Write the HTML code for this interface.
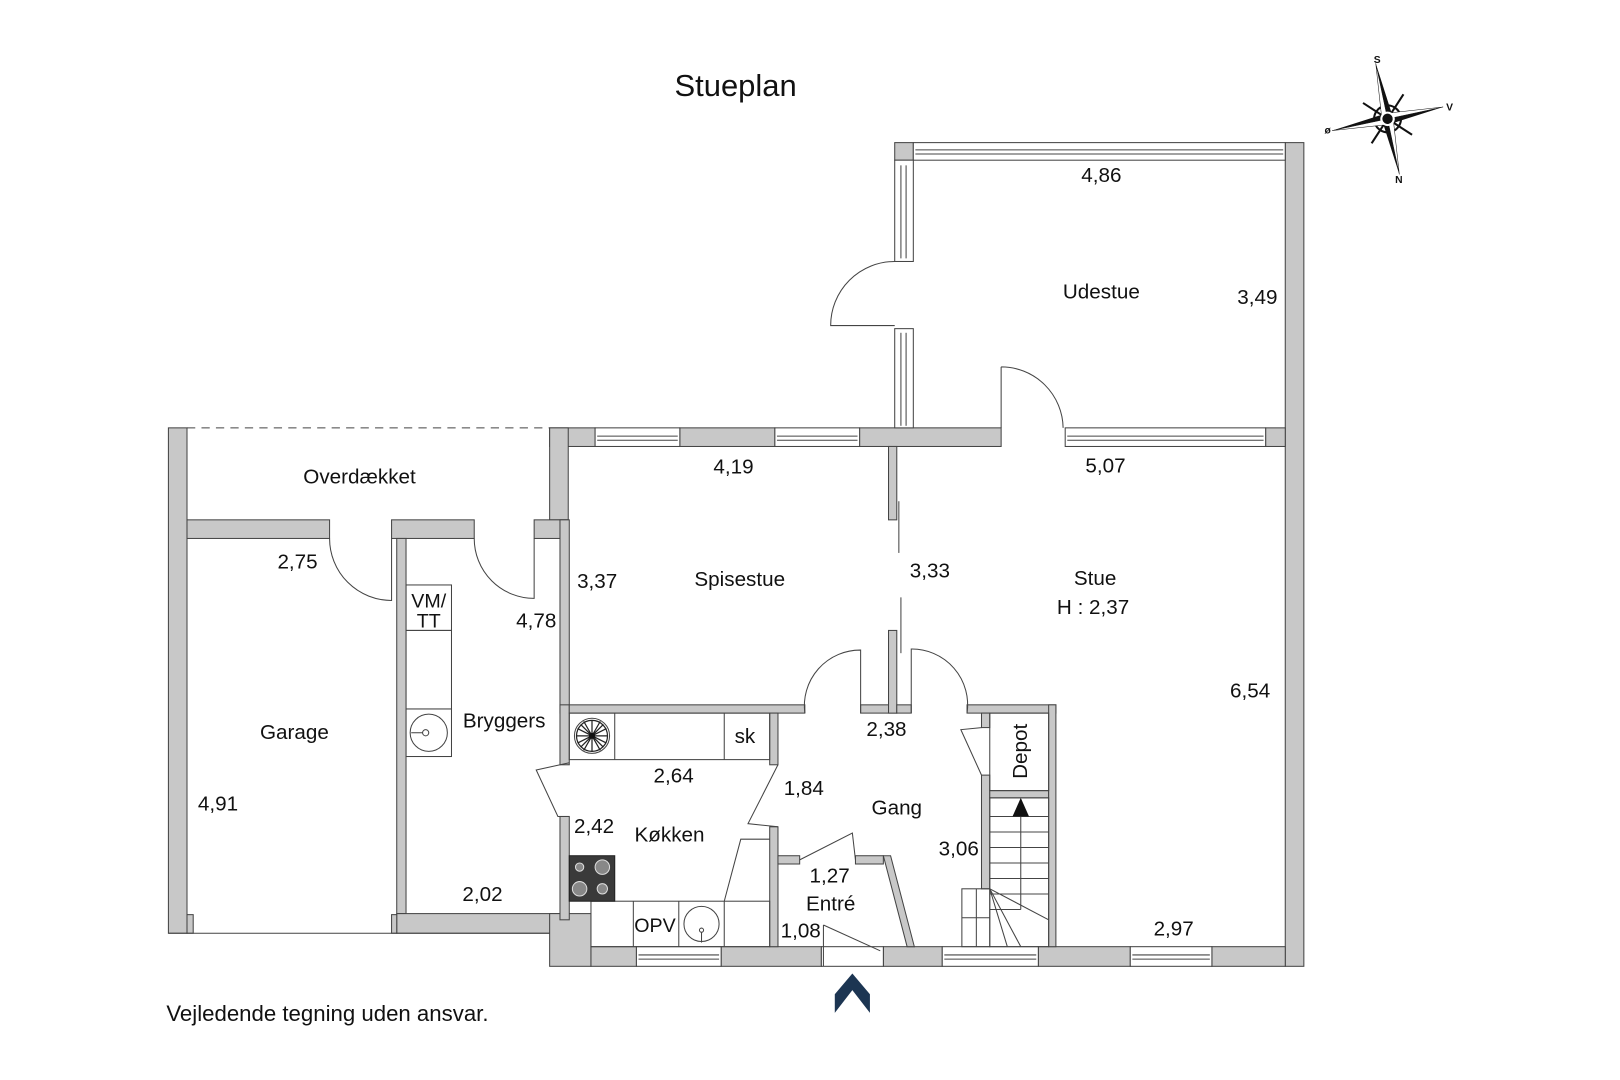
<!DOCTYPE html>
<html><head><meta charset="utf-8"><style>
html,body{margin:0;padding:0;background:#fff}
svg{display:block}
text{font-family:"Liberation Sans",sans-serif;fill:#111}
</style></head><body>
<svg width="1620" height="1080" viewBox="0 0 1568 1045" preserveAspectRatio="none" xmlns="http://www.w3.org/2000/svg">
<g fill="#c8c8c8" stroke="#444" stroke-width="1">
<rect x="866" y="138" width="18" height="17"/>
<rect x="1244" y="138" width="18" height="797"/>
<rect x="532" y="414" width="44" height="18"/>
<rect x="658" y="414" width="92" height="18"/>
<rect x="832" y="414" width="137" height="18"/>
<rect x="1225" y="414" width="19" height="18"/>
<rect x="163" y="414" width="18" height="489"/>
<rect x="532" y="414" width="18" height="89"/>
<rect x="181" y="503" width="138" height="18"/>
<rect x="379" y="503" width="80" height="18"/>
<rect x="517" y="503" width="33" height="18"/>
<rect x="542" y="503" width="9" height="187"/>
<rect x="384" y="521" width="9" height="363"/>
<rect x="384" y="884" width="158" height="19"/>
<rect x="532" y="884" width="40" height="51"/>
<rect x="542" y="682" width="9" height="58"/>
<rect x="542" y="790" width="9" height="100"/>
<rect x="572" y="916" width="44" height="19"/>
<rect x="698" y="916" width="97" height="19"/>
<rect x="855" y="916" width="57" height="19"/>
<rect x="1005" y="916" width="89" height="19"/>
<rect x="1173" y="916" width="71" height="19"/>
<rect x="181" y="885" width="6" height="18"/>
<rect x="379" y="885" width="5" height="18"/>
<rect x="551" y="682" width="228" height="8"/>
<rect x="833" y="682" width="35" height="8"/>
<rect x="860" y="432" width="8" height="71"/>
<rect x="860" y="610" width="8" height="80"/>
<rect x="868" y="682" width="14" height="8"/>
<rect x="936" y="682" width="86" height="8"/>
<rect x="745" y="690" width="8" height="50"/>
<rect x="745" y="800" width="8" height="116"/>
<rect x="753" y="828" width="21" height="8"/>
<rect x="828" y="828" width="27" height="8"/>
<polygon points="855,828 862,828 885,916 878,916"/>
<rect x="950" y="690" width="8" height="14"/>
<rect x="950" y="750" width="8" height="110"/>
<rect x="958" y="765" width="57" height="7"/>
<rect x="1015" y="682" width="7" height="234"/>
</g>
<g fill="#fff" stroke="#444" stroke-width="1">
<rect x="884" y="138" width="360" height="17"/><line x1="886" y1="145" x2="1242" y2="145"/><line x1="886" y1="149" x2="1242" y2="149"/>
<rect x="866" y="155" width="18" height="98"/><line x1="872" y1="160" x2="872" y2="250"/><line x1="877" y1="160" x2="877" y2="250"/>
<rect x="866" y="318" width="18" height="96"/><line x1="872" y1="322" x2="872" y2="412"/><line x1="877" y1="322" x2="877" y2="412"/>
<rect x="576" y="414" width="82" height="18"/><line x1="578" y1="422" x2="656" y2="422"/><line x1="578" y1="426" x2="656" y2="426"/>
<rect x="750" y="414" width="82" height="18"/><line x1="752" y1="422" x2="830" y2="422"/><line x1="752" y1="426" x2="830" y2="426"/>
<rect x="1031" y="414" width="194" height="18"/><line x1="1033" y1="422" x2="1223" y2="422"/><line x1="1033" y1="426" x2="1223" y2="426"/>
<rect x="616" y="916" width="82" height="19"/><line x1="618" y1="924" x2="696" y2="924"/><line x1="618" y1="928" x2="696" y2="928"/>
<rect x="912" y="916" width="93" height="19"/><line x1="914" y1="924" x2="1003" y2="924"/><line x1="914" y1="928" x2="1003" y2="928"/>
<rect x="1094" y="916" width="79" height="19"/><line x1="1096" y1="924" x2="1171" y2="924"/><line x1="1096" y1="928" x2="1171" y2="928"/>
<rect x="795" y="916" width="60" height="19"/>
</g>
<g fill="none" stroke="#444" stroke-width="1">
<line x1="181" y1="414" x2="532" y2="414" stroke-dasharray="8,6"/>
<line x1="163" y1="903" x2="532" y2="903"/>
<path d="M866,253 A62,62 0 0 0 804,315 L866,315"/>
<path d="M969,355 L969,414 M969,355 A60,60 0 0 1 1029,414"/>
<path d="M319,521 A60,60 0 0 0 379,581 L379,521"/>
<path d="M459,521 A58,58 0 0 0 517,579 L517,521"/>
<path d="M833,690 L833,629 A54,54 0 0 0 779,690"/>
<path d="M882,690 L882,628 A54,54 0 0 1 936,690"/>
<line x1="870" y1="485" x2="870" y2="535"/><line x1="872" y1="578" x2="872" y2="632"/>
<path d="M551,738 L519,745 L540,790 L551,790"/>
<path d="M753,740 L724,797 L753,800"/>
<path d="M774,832 L825,806 L828,832"/>
<path d="M950,704 L930,706 L950,750"/>
<path d="M797,895 L852,920"/><line x1="797" y1="895" x2="797" y2="935"/>
<rect x="393" y="566" width="44" height="44"/>
<rect x="393" y="610" width="44" height="76"/>
<rect x="393" y="686" width="44" height="46"/>
<circle cx="415" cy="709" r="18"/><circle cx="412" cy="709" r="3"/><line x1="398" y1="709" x2="409" y2="709"/>
<rect x="551" y="690" width="194" height="45"/>
<line x1="595" y1="690" x2="595" y2="735"/><line x1="701" y1="690" x2="701" y2="735"/>
<circle cx="573" cy="712" r="17"/>
<rect x="572" y="872" width="173" height="44"/>
<line x1="613" y1="872" x2="613" y2="916"/><line x1="657" y1="872" x2="657" y2="916"/><line x1="701" y1="872" x2="701" y2="916"/>
<circle cx="679" cy="894" r="17"/><circle cx="679" cy="900" r="2"/><line x1="679" y1="902" x2="679" y2="912"/>
<path d="M701,872 L717,812 L745,812"/>
<rect x="958" y="690" width="57" height="75"/>
<rect x="958" y="772" width="57" height="144"/>
<line x1="958" y1="790" x2="1015" y2="790"/><line x1="958" y1="805" x2="1015" y2="805"/><line x1="958" y1="820" x2="1015" y2="820"/><line x1="958" y1="835" x2="1015" y2="835"/><line x1="958" y1="850" x2="1015" y2="850"/><line x1="958" y1="865" x2="1015" y2="865"/>
<line x1="958" y1="880" x2="988" y2="880"/>
<line x1="988" y1="790" x2="988" y2="880"/>
<rect x="931" y="860" width="27" height="56"/><line x1="931" y1="888" x2="958" y2="888"/><line x1="945" y1="860" x2="945" y2="916"/>
<line x1="958" y1="860" x2="1015" y2="890"/><line x1="958" y1="860" x2="988" y2="916"/><line x1="958" y1="860" x2="975" y2="916"/>
</g>
<polygon points="988,772 980,790 996,790" fill="#111"/>
<g stroke="#222" stroke-width="1.2" fill="none">
<circle cx="573" cy="712" r="15"/>
<path d="M558,712h30M573,697v30M562,701l22,22M584,701l-22,22M565,698l16,28M581,698l-16,28M559,705l28,14M587,705l-28,14"/>
</g>
<circle cx="573" cy="712" r="3" fill="#111"/>
<rect x="551" y="828" width="44" height="44" fill="#3a3a3a" stroke="#222"/>
<g fill="#888" stroke="#ddd" stroke-width="1"><circle cx="561" cy="839" r="4"/><circle cx="583" cy="839" r="7"/><circle cx="561" cy="860" r="7"/><circle cx="583" cy="860" r="5"/></g>
<polygon points="808,980 825,958 842,980 842,962 825,942 808,962" fill="#1c3552"/>
<g transform="translate(1343,115) rotate(-12)">
<circle r="13" fill="none" stroke="#111" stroke-width="2"/>
<g stroke="#111" stroke-width="2"><line x1="-20" y1="-20" x2="20" y2="20"/><line x1="20" y1="-20" x2="-20" y2="20"/></g>
<polygon points="0,-55 5,-5 0,0" fill="#111"/><polygon points="0,-55 -5,-5 0,0" fill="#fff" stroke="#111" stroke-width=".5"/>
<polygon points="0,55 -5,5 0,0" fill="#111"/><polygon points="0,55 5,5 0,0" fill="#fff" stroke="#111" stroke-width=".5"/>
<polygon points="55,0 5,5 0,0" fill="#111"/><polygon points="55,0 5,-5 0,0" fill="#fff" stroke="#111" stroke-width=".5"/>
<polygon points="-55,0 -5,-5 0,0" fill="#111"/><polygon points="-55,0 -5,5 0,0" fill="#fff" stroke="#111" stroke-width=".5"/>
<circle r="7" fill="#fff"/><circle r="5" fill="#111"/>
</g>
<g font-size="10" font-weight="bold" text-anchor="middle">
<text x="1333" y="61">S</text><text x="1403" y="107">V</text><text x="1285" y="129">ø</text><text x="1354" y="177">N</text>
</g>
<text x="712" y="93" font-size="30" text-anchor="middle">Stueplan</text>
<g font-size="20" text-anchor="middle">
<text x="1066" y="176">4,86</text>
<text x="1066" y="289">Udestue</text>
<text x="1217" y="294">3,49</text>
<text x="710" y="458">4,19</text>
<text x="1070" y="457">5,07</text>
<text x="348" y="468">Overdækket</text>
<text x="288" y="550">2,75</text>
<text x="415" y="588" font-size="19">VM/</text>
<text x="415" y="607" font-size="19">TT</text>
<text x="519" y="607">4,78</text>
<text x="578" y="569">3,37</text>
<text x="716" y="567">Spisestue</text>
<text x="900" y="559">3,33</text>
<text x="1060" y="566">Stue</text>
<text x="1058" y="594">H : 2,37</text>
<text x="1210" y="675">6,54</text>
<text x="285" y="715">Garage</text>
<text x="488" y="704">Bryggers</text>
<text x="211" y="784">4,91</text>
<text x="721" y="719">sk</text>
<text x="858" y="712">2,38</text>
<text x="652" y="757">2,64</text>
<text x="778" y="769">1,84</text>
<text x="868" y="788">Gang</text>
<text x="575" y="806">2,42</text>
<text x="648" y="814">Køkken</text>
<text x="928" y="828">3,06</text>
<text x="803" y="854">1,27</text>
<text x="804" y="881">Entré</text>
<text x="467" y="872">2,02</text>
<text x="775" y="907">1,08</text>
<text x="634" y="902" font-size="19">OPV</text>
<text x="1136" y="905">2,97</text>
<text transform="translate(994,727) rotate(-90)">Depot</text>
</g>
<text x="161" y="988" font-size="21.5">Vejledende tegning uden ansvar.</text>
</svg>
</body></html>
